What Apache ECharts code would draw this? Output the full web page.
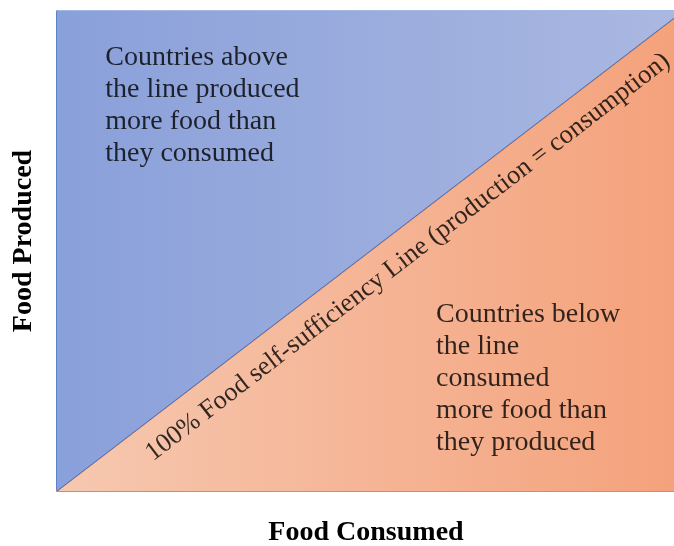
<!DOCTYPE html>
<html><head><meta charset="utf-8">
<script src="https://cdn.jsdelivr.net/npm/echarts@6/dist/echarts.min.js"></script>
<style>html,body{margin:0;padding:0;background:#fff}#c{width:674px;height:546px}</style>
</head><body><div id="c"></div>
<script>
// Data
var xRange = [0, 98.5];          // food consumed axis extent (visible part)
var yRange = [0, 100];           // food produced axis extent
var parityLine = [[0, 0], [98.5, 98.5]];   // production = consumption
var axisNames = ['Food Consumed', 'Food Produced'];
var notes = [
  {text: 'Countries above\nthe line produced\nmore food than\nthey consumed', at: [7.7, 93.7]},
  {text: 'Countries below\nthe line\nconsumed\nmore food than\nthey produced', at: [60.5, 40.0]}
];
var lineLabel = {text: '100% Food self-sufficiency Line (production = consumption)', at: [56.0, 48.7]};

var serif = 'Liberation Serif';
var chart = echarts.init(document.getElementById('c'));
chart.setOption({
  animation: false,
  grid: {left: 57, top: 11, width: 618, height: 480, show: true, borderColor: '#4472c4', borderWidth: 1,
    backgroundColor: 'transparent', containLabel: false, outerBoundsMode: 'none'},
  xAxis: {type: 'value', min: xRange[0], max: xRange[1] * 618 / 617,
    name: axisNames[0], nameLocation: 'middle', nameGap: 28,
    nameTextStyle: {fontFamily: serif, fontSize: 28, fontWeight: 'bold', color: '#000'},
    axisLine: {lineStyle: {color: '#ed7d31', width: 1.5}}, axisTick: {show: false}, axisLabel: {show: false}, splitLine: {show: false}},
  yAxis: {type: 'value', min: yRange[0], max: yRange[1],
    name: axisNames[1], nameLocation: 'middle', nameGap: 19, nameRotate: 90,
    nameTextStyle: {fontFamily: serif, fontSize: 28, fontWeight: 'bold', color: '#000', padding: [0, 0, 0, 20]},
    axisLine: {show: true, lineStyle: {color: '#4472c4', width: 1.5}}, axisTick: {show: false}, axisLabel: {show: false}, splitLine: {show: false}},
  series: [
    {type: 'line', data: parityLine, symbol: 'none', z: 1,
     lineStyle: {color: '#ed7d31', width: 1.5},
     areaStyle: {origin: 'start', opacity: 1, color: new echarts.graphic.LinearGradient(0, 0, 1, 0, [{offset: 0, color: '#f6c8b0'}, {offset: 1, color: '#f4a27c'}])}},
    {type: 'line', data: parityLine, symbol: 'none', z: 2,
     lineStyle: {color: '#4472c4', width: 1},
     areaStyle: {origin: 'end', opacity: 1, color: new echarts.graphic.LinearGradient(0, 0, 1, 0, [{offset: 0, color: '#8aa0da'}, {offset: 1, color: '#aab8e1'}])}},
    {type: 'scatter', symbolSize: 0, z: 5, silent: true,
     data: notes.map(function (n) { return {value: n.at, label: {formatter: n.text}}; }),
     label: {show: true, position: 'inside', align: 'left', verticalAlign: 'top', fontFamily: serif, fontSize: 28, lineHeight: 32, color: '#000', textBorderWidth: 0}},
    {type: 'scatter', symbolSize: 0, z: 5, silent: true,
     data: [{value: lineLabel.at, label: {formatter: lineLabel.text}}],
     label: {show: true, position: 'inside', align: 'center', verticalAlign: 'middle', rotate: 37.5, fontFamily: serif, fontSize: 26.5, color: '#000', textBorderWidth: 0}}
  ]
});
</script></body></html>
